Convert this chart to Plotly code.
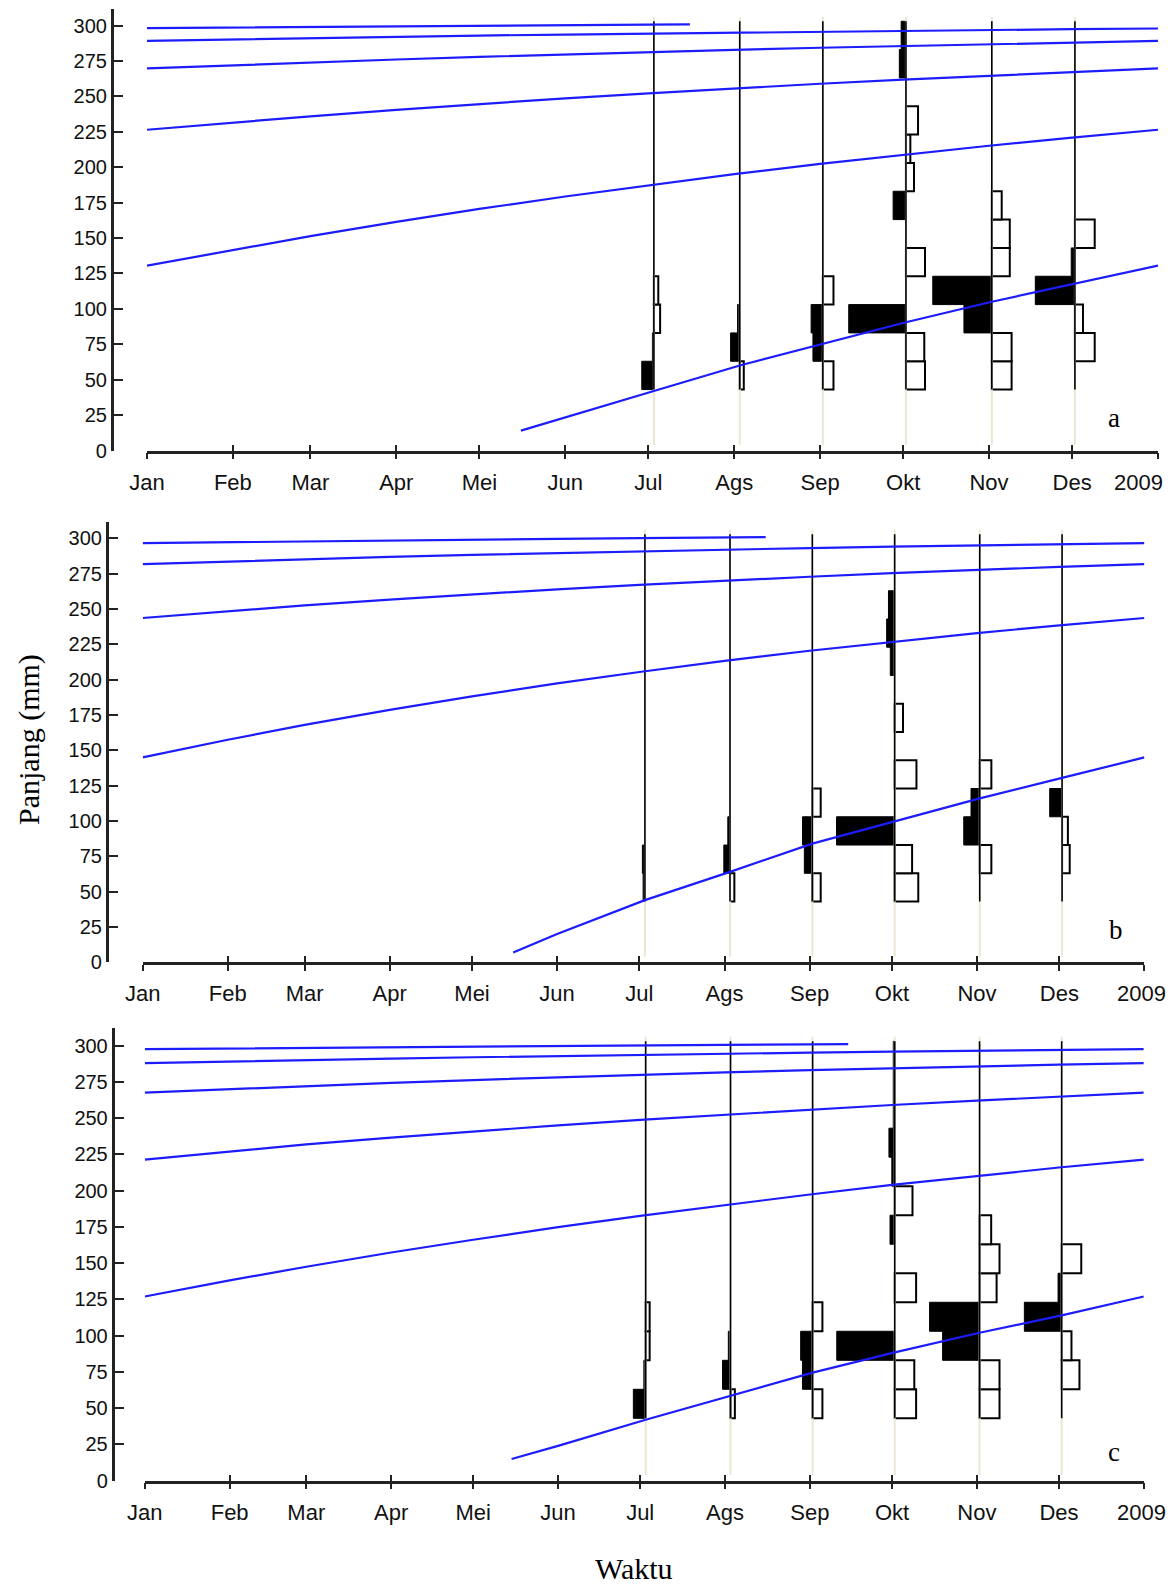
import plotly.graph_objects as go

# ---------------- data ----------------
MONTH_DAYS = [0, 31, 59, 90, 120, 151, 181, 212, 243, 273, 304, 334, 365]
MONTH_LABELS = ["Jan", "Feb", "Mar", "Apr", "Mei", "Jun", "Jul", "Ags", "Sep", "Okt", "Nov", "Des", "2009"]
Y_TICKS = [0, 25, 50, 75, 100, 125, 150, 175, 200, 225, 250, 275, 300]

# length classes (mm), class mid points, class width 20 mm
BIN_MIDS = [53, 73, 93, 113, 133, 153, 173, 193, 213, 233, 253, 273, 293]
BIN_LOW, BIN_HIGH = 43, 303
# sampling dates (day of year 2008)
SAMPLE_DAYS = [183, 214, 244, 274, 305, 335]

# restructured frequencies per sample (positive = black peak, negative = white trough)
A_JUL = [3.3, 0.4, -1.7, -1.2, 0, 0, 0, 0, 0, 0, 0, 0, 0]
A_AGS = [-1.1, 2.5, 0.6, 0, 0, 0, 0, 0, 0, 0, 0, 0, 0]
A_SEP = [-2.9, 2.7, 3.2, -2.9, 0, 0, 0, 0, 0, 0, 0, 0, 0]
A_OKT = [-5.2, -5.0, 15.6, 0, -5.2, 0, 3.5, -2.2, -1.2, -3.3, 0, 1.8, 1.3]
A_NOV = [-5.4, -5.4, 7.6, 16.1, -4.9, -4.9, -2.7, 0, 0, 0, 0, 0, 0]
A_DES = [0, -5.4, -2.2, 10.8, 1.0, -5.4, 0, 0, 0, 0, 0, 0, 0]

B_JUL = [0.5, 0.7, 0, 0, 0, 0, 0, 0, 0, 0, 0, 0, 0]
B_AGS = [-1.2, 1.7, 0.6, 0, 0, 0, 0, 0, 0, 0, 0, 0, 0]
B_SEP = [-2.3, 2.2, 2.7, -2.3, 0, 0, 0, 0, 0, 0, 0, 0, 0]
B_OKT = [-6.5, -4.8, 16.0, 0, -6.0, 0, -2.3, 0, 1.2, 2.2, 1.7, 0, 0]
B_NOV = [0, -3.2, 4.4, 2.4, -3.2, 0, 0, 0, 0, 0, 0, 0, 0]
B_DES = [0, -2.1, -1.6, 3.4, 0, 0, 0, 0, 0, 0, 0, 0, 0]

C_JUL = [3.4, 0.5, -1.1, -1.1, 0, 0, 0, 0, 0, 0, 0, 0, 0]
C_AGS = [-1.2, 2.2, 0.6, 0, 0, 0, 0, 0, 0, 0, 0, 0, 0]
C_SEP = [-2.7, 2.8, 3.3, -2.7, 0, 0, 0, 0, 0, 0, 0, 0, 0]
C_OKT = [-5.9, -5.4, 16.0, 0, -5.9, 0, 1.3, -4.9, 0.8, 1.6, 0.4, 0.4, 0.4]
C_NOV = [-5.5, -5.5, 10.2, 13.8, -4.7, -5.5, -3.2, 0, 0, 0, 0, 0, 0]
C_DES = [0, -4.9, -2.7, 10.3, 1.0, -5.4, 0, 0, 0, 0, 0, 0, 0]

# growth curves (cohorts), read at month starts unless days given
A_C0_DAYS = [135, 151, 183, 214, 244, 274, 305, 335, 365]
A_C0 = [14, 23.5, 42, 60, 75, 90.5, 105, 118, 130.5]
A_C1 = [130.5, 141.5, 151.3, 161.4, 170.5, 179.3, 187.3, 195.1, 202.3, 208.8, 215.1, 220.8, 226.4]
A_C2 = [226.4, 231.6, 235.9, 240.5, 244.6, 248.6, 252.1, 255.6, 258.9, 261.8, 264.6, 267.2, 269.7]
A_C3 = [269.7, 272.0, 274.0, 276.0, 277.9, 279.7, 281.3, 282.8, 284.3, 285.6, 286.9, 288.0, 289.1]
A_C4 = [289.1, 290.2, 291.1, 292.0, 292.9, 293.6, 294.3, 295.0, 295.7, 296.3, 296.9, 297.4, 297.9]
A_C5_DAYS = [0, 31, 59, 90, 120, 151, 181, 196]
A_C5 = [298.2, 298.7, 299.1, 299.5, 299.9, 300.3, 300.6, 300.8]

B_C0_DAYS = [135, 151, 183, 214, 244, 274, 305, 335, 365]
B_C0 = [7, 20, 44, 64, 84, 99.5, 116, 130.5, 145]
B_C1 = [145, 157.5, 168.0, 178.7, 188.2, 197.4, 205.5, 213.3, 220.5, 226.9, 233.0, 238.5, 243.7]
B_C2 = [243.7, 248.5, 252.6, 256.7, 260.4, 264.0, 267.1, 270.1, 272.9, 275.4, 277.8, 279.9, 281.9]
B_C3 = [281.9, 283.8, 285.3, 286.9, 288.4, 289.7, 291.0, 292.1, 293.2, 294.2, 295.1, 295.9, 296.7]
B_C4_DAYS = [0, 31, 59, 90, 120, 151, 181, 212, 227]
B_C4 = [296.7, 297.4, 298.0, 298.6, 299.2, 299.7, 300.2, 300.6, 300.9]

C_C0_DAYS = [134, 151, 183, 214, 244, 274, 305, 335, 365]
C_C0 = [15, 24, 42, 58.5, 74.5, 88.5, 102, 114, 127]
C_C1 = [127, 138.1, 147.5, 157.3, 166.1, 174.8, 182.6, 190.2, 197.3, 203.9, 210.2, 215.9, 221.4]
C_C2 = [221.4, 227.0, 231.8, 236.5, 240.8, 245.0, 248.8, 252.4, 255.8, 259.0, 262.0, 264.8, 267.5]
C_C3 = [267.5, 270.0, 272.2, 274.3, 276.2, 278.1, 279.9, 281.5, 283.0, 284.4, 285.7, 286.8, 287.8]
C_C4 = [287.8, 289.0, 290.0, 291.0, 291.9, 292.8, 293.6, 294.4, 295.1, 295.8, 296.4, 297.0, 297.5]
C_C5_DAYS = [0, 31, 59, 90, 120, 151, 181, 212, 243, 257]
C_C5 = [297.5, 298.0, 298.5, 299.0, 299.4, 299.8, 300.2, 300.5, 300.8, 301.0]

PANEL_LETTERS = ["a", "b", "c"]

# ---------------- styling / layout ----------------
SCALE = 1.324          # days of x-axis per unit of restructured frequency
BLUE = "#1c1cff"
BEIGE = "#ece7d3"
AXC = "#222222"
TICK_FONT = dict(family="Arial, Liberation Sans, sans-serif", size=20, color="#111111")
XTICK_FONT = dict(TICK_FONT, size=22)
SERIF = "Times New Roman, Liberation Serif, serif"
W, H, OFF = 1176, 1584, 8   # page offset of the plot div


def px_x(px):
    return (px - OFF) / W


def px_y(py):
    return 1 - (py - OFF) / H


panels = [
    dict(scores=[A_JUL, A_AGS, A_SEP, A_OKT, A_NOV, A_DES],
         curves=[(A_C0_DAYS, A_C0), (MONTH_DAYS, A_C1), (MONTH_DAYS, A_C2), (MONTH_DAYS, A_C3),
                 (MONTH_DAYS, A_C4), (A_C5_DAYS, A_C5)],
         xpx=(147.0, 1158.0), ypx=(450.5, 8.5), ypos=111.7, letter=(349, 23), last_shift=-20),
    dict(scores=[B_JUL, B_AGS, B_SEP, B_OKT, B_NOV, B_DES],
         curves=[(B_C0_DAYS, B_C0), (MONTH_DAYS, B_C1), (MONTH_DAYS, B_C2), (MONTH_DAYS, B_C3),
                 (B_C4_DAYS, B_C4)],
         xpx=(142.7, 1144.4), ypx=(962.3, 521.5), ypos=106.7, letter=(354.5, 23), last_shift=-3),
    dict(scores=[C_JUL, C_AGS, C_SEP, C_OKT, C_NOV, C_DES],
         curves=[(C_C0_DAYS, C_C0), (MONTH_DAYS, C_C1), (MONTH_DAYS, C_C2), (MONTH_DAYS, C_C3),
                 (MONTH_DAYS, C_C4), (C_C5_DAYS, C_C5)],
         xpx=(144.8, 1143.8), ypx=(1480.7, 1028.1), ypos=112.5, letter=(354, 20), last_shift=-2),
]

fig = go.Figure()
layout = dict(width=W, height=H, margin=dict(l=0, r=0, t=0, b=0, autoexpand=False),
              paper_bgcolor="white", plot_bgcolor="white", showlegend=False,
              barmode="overlay", annotations=[])

for i, p in enumerate(panels):
    n = i + 1
    xa = "x" if n == 1 else f"x{n}"
    ya = "y" if n == 1 else f"y{n}"

    # faint sampling-date guide lines
    gx, gy = [], []
    for d in SAMPLE_DAYS:
        gx += [d, d, None]
        gy += [4, 306, None]
    fig.add_trace(go.Scatter(x=gx, y=gy, mode="lines", line=dict(color=BEIGE, width=2),
                             hoverinfo="skip", xaxis=xa, yaxis=ya))

    # histogram bars
    bx, bbase, by, wx, wbase, wy = [], [], [], [], [], []
    for d, sc in zip(SAMPLE_DAYS, p["scores"]):
        for m, v in zip(BIN_MIDS, sc):
            if v > 0:
                bx.append(-v * SCALE); bbase.append(d); by.append(m)
            elif v < 0:
                wx.append(-v * SCALE); wbase.append(d); wy.append(m)
    fig.add_trace(go.Bar(orientation="h", x=bx, y=by, base=bbase, width=20,
                         marker=dict(color="black", line=dict(color="black", width=1)),
                         xaxis=xa, yaxis=ya, hoverinfo="skip"))
    fig.add_trace(go.Bar(orientation="h", x=wx, y=wy, base=wbase, width=20,
                         marker=dict(color="white", line=dict(color="black", width=2)),
                         xaxis=xa, yaxis=ya, hoverinfo="skip"))

    # sample baselines
    lx, ly = [], []
    for d in SAMPLE_DAYS:
        lx += [d, d, None]
        ly += [BIN_LOW, BIN_HIGH, None]
    fig.add_trace(go.Scatter(x=lx, y=ly, mode="lines", line=dict(color="black", width=1.6),
                             hoverinfo="skip", xaxis=xa, yaxis=ya))

    # growth curves
    for days, vals in p["curves"]:
        fig.add_trace(go.Scatter(x=days, y=vals, mode="lines", line=dict(color=BLUE, width=2.2),
                                 hoverinfo="skip", xaxis=xa, yaxis=ya))

    # invisible trace so the overlay tick axis is drawn
    fig.add_trace(go.Scatter(x=[0], y=[-50], mode="markers", marker=dict(opacity=0),
                             hoverinfo="skip", xaxis=f"x{n + 3}", yaxis=ya))

    # last tick label ("2009") is drawn as annotation so it can sit left of its tick
    labels = MONTH_LABELS[:-1] + [""]
    xdom = [px_x(p["xpx"][0]), px_x(p["xpx"][1])]
    ydom = [px_y(p["ypx"][0]), px_y(p["ypx"][1])]
    xkey = "xaxis" if n == 1 else f"xaxis{n}"
    ykey = "yaxis" if n == 1 else f"yaxis{n}"
    layout[xkey] = dict(domain=xdom, anchor=ya, range=[0, 365], automargin=False,
                        tickvals=MONTH_DAYS, ticktext=labels,
                        ticks="outside", ticklen=6, tickwidth=2, tickcolor=AXC,
                        showline=True, linewidth=2.5, linecolor=AXC,
                        showgrid=False, zeroline=False, tickfont=XTICK_FONT,
                        ticklabelstandoff=4)
    layout[f"xaxis{n + 3}"] = dict(overlaying=xa, anchor=ya, range=[0, 365], matches=xa,
                                   automargin=False,
                                   tickvals=MONTH_DAYS, ticks="inside", ticklen=6, tickwidth=2,
                                   tickcolor=AXC, showticklabels=False, showline=False,
                                   showgrid=False, zeroline=False)
    layout[ykey] = dict(domain=ydom, anchor="free", position=px_x(p["ypos"]), range=[0, 312],
                        automargin=False,
                        tickvals=Y_TICKS, ticks="inside", ticklen=10, tickwidth=2, tickcolor=AXC,
                        showline=True, linewidth=2.5, linecolor=AXC,
                        showgrid=False, zeroline=False, tickfont=TICK_FONT)
    layout["annotations"].append(dict(x=MONTH_DAYS[-1], y=0, xref=xa, yref=ya,
                                      text=MONTH_LABELS[-1], showarrow=False,
                                      xanchor="center", yanchor="middle",
                                      xshift=p["last_shift"], yshift=-31.5, font=XTICK_FONT))
    layout["annotations"].append(dict(x=p["letter"][0], y=p["letter"][1], xref=xa, yref=ya,
                                      text=PANEL_LETTERS[i],
                                      showarrow=False, xanchor="center", yanchor="middle",
                                      font=dict(family=SERIF, size=27, color="black")))

layout["annotations"].append(dict(x=px_x(29), y=px_y(740), xref="paper", yref="paper",
                                  text="Panjang (mm)", textangle=-90, showarrow=False,
                                  xanchor="center", yanchor="middle",
                                  font=dict(family=SERIF, size=30, color="black")))
layout["annotations"].append(dict(x=px_x(634), y=px_y(1568), xref="paper", yref="paper",
                                  text="Waktu", showarrow=False,
                                  xanchor="center", yanchor="middle",
                                  font=dict(family=SERIF, size=30, color="black")))

fig.update_layout(**layout)
fig.write_html("out.html")
